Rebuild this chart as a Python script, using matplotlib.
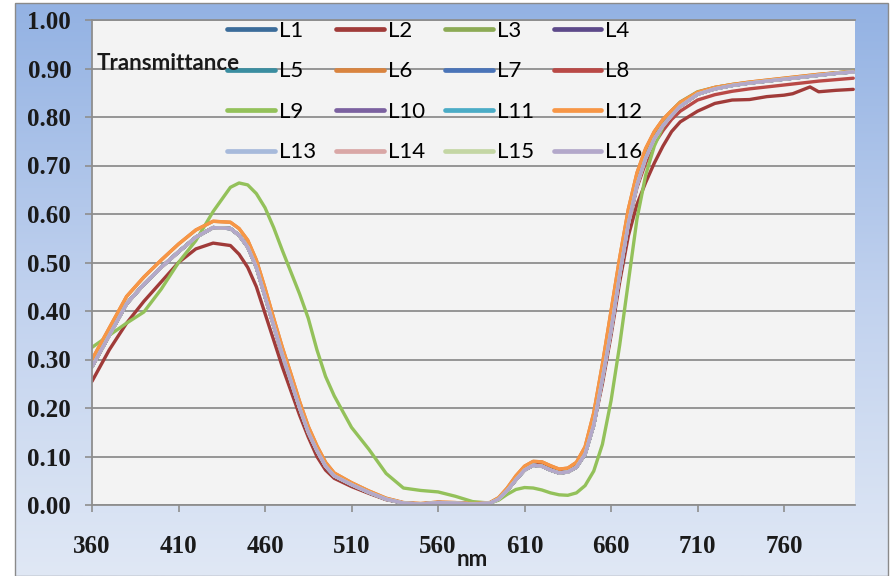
import numpy as np
import matplotlib
matplotlib.use("Agg")
import matplotlib.pyplot as plt
from matplotlib.colors import LinearSegmentedColormap
from matplotlib.patches import Rectangle

# ---------------- data ----------------
wavelength = [360, 370, 380, 390, 400, 410, 420, 430, 440,
              445, 450, 455, 460, 465, 470, 475, 480, 485, 490, 495, 500,
              510, 520, 530, 540, 550, 560, 570, 580, 590,
              595, 600, 605, 610, 615, 620, 625, 630, 635, 640, 645, 650, 655,
              660, 665, 670, 675, 680, 685, 690, 695, 700,
              710, 720, 730, 740, 750, 760,
              765, 770, 775,
              780, 790, 800]

base = [0.285, 0.35, 0.415, 0.455, 0.49, 0.522, 0.552, 0.572, 0.570,
        0.556, 0.532, 0.49, 0.43, 0.37, 0.31, 0.255, 0.20, 0.15, 0.112, 0.08, 0.06,
        0.042, 0.026, 0.012, 0.004, 0.002, 0.005, 0.004, 0.002, 0.004,
        0.012, 0.030, 0.052, 0.072, 0.082, 0.080, 0.072, 0.066, 0.068, 0.078, 0.105, 0.165, 0.26,
        0.36, 0.475, 0.58, 0.66, 0.715, 0.755, 0.782, 0.803, 0.822,
        0.847, 0.858, 0.865, 0.870, 0.874, 0.878,
        0.880, 0.882, 0.884,
        0.886, 0.890, 0.893]

olive = [0.285, 0.35, 0.415, 0.455, 0.49, 0.522, 0.552, 0.572, 0.570,
         0.556, 0.532, 0.49, 0.43, 0.37, 0.31, 0.255, 0.20, 0.15, 0.112, 0.08, 0.06,
         0.042, 0.026, 0.012, 0.004, 0.002, 0.005, 0.004, 0.002, 0.004,
         0.012, 0.030, 0.052, 0.072, 0.082, 0.080, 0.072, 0.066, 0.068, 0.078, 0.105, 0.165, 0.26,
         0.36, 0.48, 0.59, 0.675, 0.728, 0.768, 0.794, 0.813, 0.831,
         0.852, 0.861, 0.867, 0.871, 0.875, 0.879,
         0.881, 0.883, 0.885,
         0.887, 0.891, 0.894]

orange = [0.300, 0.365, 0.43, 0.47, 0.505, 0.538, 0.567, 0.585, 0.583,
          0.570, 0.546, 0.505, 0.447, 0.385, 0.325, 0.27, 0.213, 0.162, 0.122, 0.088, 0.066,
          0.046, 0.029, 0.014, 0.005, 0.003, 0.006, 0.005, 0.003, 0.005,
          0.015, 0.035, 0.060, 0.080, 0.090, 0.089, 0.081, 0.074, 0.076, 0.088, 0.12, 0.19, 0.29,
          0.40, 0.51, 0.61, 0.685, 0.735, 0.77, 0.795, 0.813, 0.83,
          0.851, 0.861, 0.867, 0.872, 0.876, 0.880,
          0.882, 0.884, 0.886,
          0.888, 0.891, 0.894]

red_low = [0.255, 0.32, 0.375, 0.42, 0.46, 0.50, 0.528, 0.54, 0.535,
           0.517, 0.49, 0.45, 0.395, 0.34, 0.285, 0.235, 0.185, 0.14, 0.10, 0.072, 0.055,
           0.038, 0.024, 0.011, 0.004, 0.002, 0.005, 0.004, 0.002, 0.004,
           0.013, 0.033, 0.056, 0.078, 0.087, 0.086, 0.078, 0.071, 0.072, 0.082, 0.108, 0.165, 0.25,
           0.35, 0.46, 0.555, 0.62, 0.665, 0.705, 0.74, 0.77, 0.79,
           0.812, 0.828, 0.835, 0.836, 0.842, 0.845,
           0.848, 0.855, 0.862,
           0.852, 0.855, 0.857]

red_mid = [0.285, 0.35, 0.415, 0.455, 0.49, 0.522, 0.552, 0.572, 0.570,
           0.556, 0.532, 0.49, 0.43, 0.37, 0.31, 0.255, 0.20, 0.15, 0.112, 0.08, 0.06,
           0.042, 0.026, 0.012, 0.004, 0.002, 0.005, 0.004, 0.002, 0.004,
           0.012, 0.030, 0.052, 0.072, 0.082, 0.080, 0.072, 0.066, 0.068, 0.078, 0.105, 0.165, 0.26,
           0.36, 0.475, 0.58, 0.655, 0.705, 0.745, 0.772, 0.795, 0.812,
           0.835, 0.846, 0.853, 0.858, 0.862, 0.866,
           0.868, 0.870, 0.872,
           0.874, 0.877, 0.880]

green = [0.325, 0.35, 0.375, 0.398, 0.445, 0.50, 0.545, 0.605, 0.655,
         0.664, 0.66, 0.642, 0.613, 0.572, 0.525, 0.48, 0.435, 0.385, 0.32, 0.265, 0.225,
         0.16, 0.115, 0.065, 0.035, 0.03, 0.027, 0.018, 0.007, 0.004,
         0.01, 0.022, 0.032, 0.036, 0.035, 0.031, 0.025, 0.021, 0.02, 0.025, 0.04, 0.07, 0.125,
         0.215, 0.33, 0.46, 0.59, 0.68, 0.74, 0.78, 0.806, 0.826,
         0.849, 0.860, 0.866, 0.871, 0.875, 0.879,
         0.881, 0.883, 0.885,
         0.887, 0.891, 0.894]

series_names = ["L1", "L2", "L3", "L4", "L5", "L6", "L7", "L8",
                "L9", "L10", "L11", "L12", "L13", "L14", "L15", "L16"]
series_values = [base, red_low, olive, base, base, orange, base, red_mid,
                 green, base, base, orange, base, base, base, base]
series_colors = ["#3B6C9A", "#A03B39", "#8CAA55", "#5D4A8A", "#3A8DA0", "#D9843F",
                 "#4A74B8", "#B94946", "#93C15A", "#7B61A0", "#4BACC6", "#F79646",
                 "#A7BADB", "#D9A7A6", "#C4D6A4", "#B3A8CA"]

y_ticks = [0.0, 0.1, 0.2, 0.3, 0.4, 0.5, 0.6, 0.7, 0.8, 0.9, 1.0]
x_ticks = [360, 410, 460, 510, 560, 610, 660, 710, 760]

# ---------------- figure ----------------
W, H = 890, 576
fig = plt.figure(figsize=(W / 100, H / 100), dpi=100)
fig.patch.set_facecolor("white")

# chart-area gradient background
bg = fig.add_axes([15 / W, 0, (888 - 15) / W, (576 - 3) / H])
grad = np.linspace(0, 1, 256).reshape(-1, 1)
cmap = LinearSegmentedColormap.from_list("bg", ["#93B2E3", "#C0D1EE", "#E0E8F5"])
bg.imshow(grad, aspect="auto", cmap=cmap, extent=[0, 1, 0, 1], origin="upper")
bg.set_axis_off()
fig.patches.append(Rectangle((15 / W, 0), (888 - 15) / W, (576 - 3) / H,
                             transform=fig.transFigure, fill=False,
                             edgecolor="#8A8A8A", linewidth=1.0, zorder=5))

ax = fig.add_axes([92 / W, 71 / H, (855 - 92) / W, (505 - 20) / H])
ax.set_facecolor("#F3F3F3")

handles = []
for name, vals, col in zip(series_names, series_values, series_colors):
    h, = ax.plot(wavelength, vals, color=col, lw=2.4, label=name,
                 solid_capstyle="round", solid_joinstyle="round")
    handles.append(h)

ax.set_xlim(360, 801)
ax.set_ylim(0, 1.0)
ax.set_yticks(y_ticks)
ax.set_yticklabels([f"{v:.2f}" for v in y_ticks])
ax.set_xticks(x_ticks)
ax.set_xticklabels([str(v) for v in x_ticks])

ax.yaxis.grid(True, color="#8E8E8E", lw=1.3)
ax.set_axisbelow(True)
ax.spines["right"].set_visible(False)
for s in ["top", "left", "bottom"]:
    ax.spines[s].set_color("#8E8E8E")
    ax.spines[s].set_linewidth(1.3)

ax.tick_params(axis="both", direction="out", length=5, color="#8E8E8E", width=1.2)
ax.tick_params(axis="x", pad=16.5)
ax.tick_params(axis="y", pad=10)
for lab in ax.get_xticklabels() + ax.get_yticklabels():
    lab.set_fontfamily("Liberation Serif")
    lab.set_fontweight("bold")
    lab.set_fontsize(18)
    lab.set_color("#1A1A1A")

# legend laid out row-wise (4 columns)
order = [r * 4 + c for c in range(4) for r in range(4)]
leg = ax.legend([handles[i] for i in order], [series_names[i] for i in order],
                ncol=4, frameon=False, loc="upper left",
                bbox_to_anchor=(227 / W, 1 - 21 / H), bbox_transform=fig.transFigure,
                borderpad=0, borderaxespad=0, handlelength=2.15, handletextpad=0.18,
                columnspacing=0.9, labelspacing=0.92,
                prop={"family": "Lato", "size": 16})
for line in leg.get_lines():
    line.set_linewidth(3.4)

fig.text(97 / W, 1 - 63 / H, "Transmittance", ha="left", va="center",
         family="Lato", weight="bold", size=16, color="#1A1A1A")
fig.text(472 / W, 1 - 560 / H, "nm", ha="center", va="center",
         family="Lato", weight="bold", size=16, color="#1A1A1A")

fig.savefig("out.png", dpi=100)
